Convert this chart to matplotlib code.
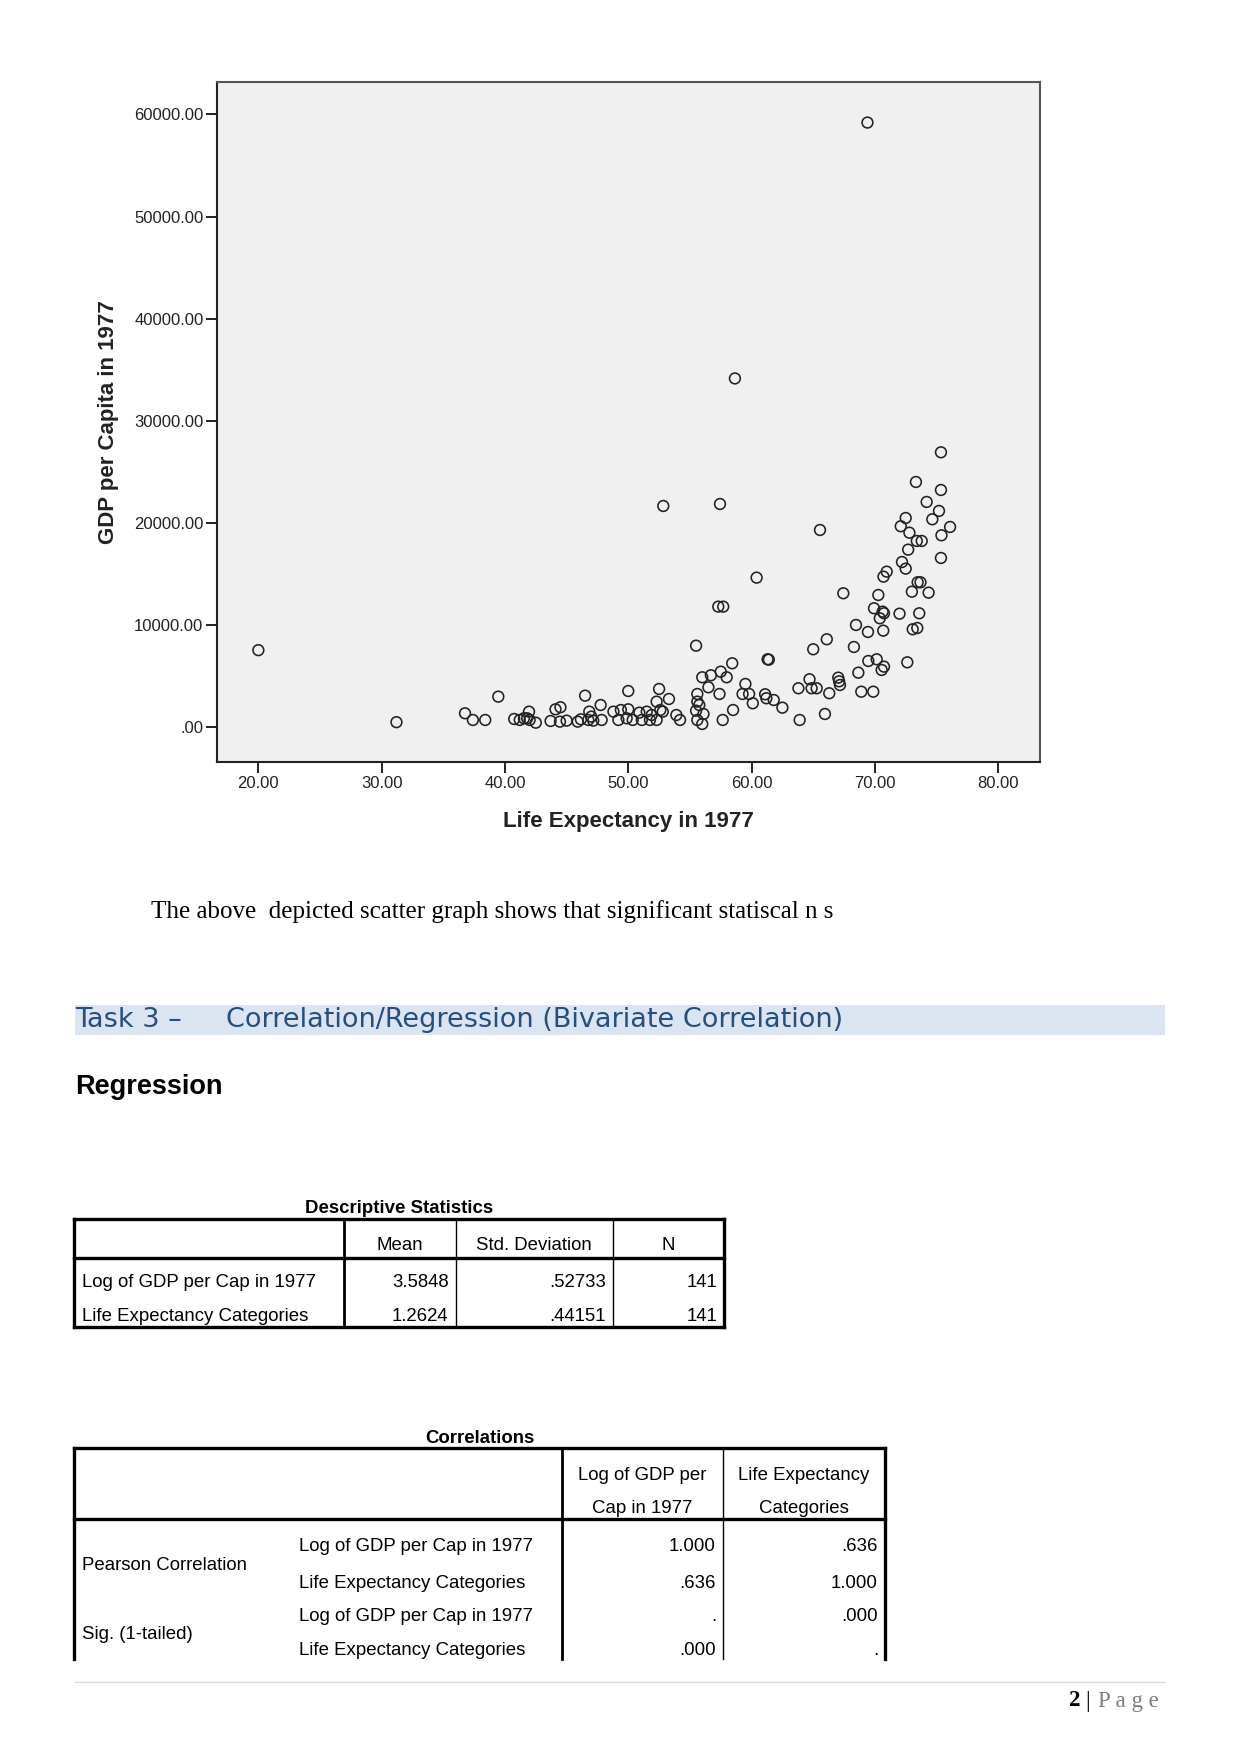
import matplotlib.pyplot as plt
from matplotlib.patches import Rectangle
from matplotlib.ticker import FuncFormatter

W, H = 1241, 1754

# scatter data: life expectancy (x) vs GDP per capita (y), 1977
life_exp = [
    20.0, 31.2, 69.4, 58.65, 52.84, 57.44, 65.55, 60.41, 57.3, 57.7,
    55.5, 75.36, 73.33, 75.36, 74.2, 75.2, 74.66, 76.1, 75.4, 72.5,
    72.1, 72.8, 73.4, 73.8, 72.7, 75.36, 72.2, 72.5, 70.96, 70.7,
    67.44, 70.28, 73.47, 73.7, 73.0, 74.36, 69.93, 70.63, 70.74, 70.4,
    72.0, 73.6, 73.07, 73.44, 70.68, 68.47, 69.44, 66.1, 65.0, 68.3,
    72.63, 69.47, 70.15, 70.74, 70.55, 68.66, 61.3, 61.4, 58.43, 56.0,
    56.7, 57.5, 57.98, 59.5, 56.5, 55.6, 57.4, 59.27, 59.8, 61.1,
    61.2, 64.7, 63.8, 64.87, 65.28, 67.03, 67.1, 67.17, 66.3, 68.9,
    69.87, 52.5, 53.3, 52.3, 55.6, 55.76, 55.5, 56.1, 55.6, 56.0,
    57.66, 58.5, 60.1, 61.8, 62.5, 63.9, 65.95, 36.76, 37.4, 38.4,
    39.46, 40.75, 41.2, 41.54, 41.95, 41.8, 42.0, 42.5, 43.7, 44.1,
    44.5, 44.46, 45.0, 45.9, 46.16, 46.5, 46.84, 46.76, 47.0, 47.16,
    47.76, 47.84, 48.8, 49.2, 49.4, 50.0, 50.0, 49.87, 50.36, 50.9,
    51.5, 51.1, 51.76, 52.3, 51.9, 53.9, 54.2, 52.6, 52.8,
]
gdp_per_cap = [
    7550, 500, 59200, 34150, 21665, 21860, 19315, 14650, 11810, 11810,
    7990, 26920, 24015, 23230, 22060, 21180, 20360, 19610, 18795, 20490,
    19680, 19050, 18240, 18240, 17390, 16575, 16180, 15530, 15235, 14745,
    13120, 12950, 14195, 14195, 13275, 13180, 11650, 11320, 11160, 10670,
    11120, 11160, 9595, 9720, 9460, 10015, 9330, 8615, 7635, 7860,
    6360, 6490, 6655, 5935, 5610, 5345, 6655, 6620, 6265, 4895,
    5090, 5445, 4895, 4240, 3915, 3260, 3260, 3260, 3260, 3230,
    2840, 4700, 3820, 3820, 3820, 4860, 4500, 4140, 3330, 3485,
    3485, 3750, 2770, 2510, 2510, 2180, 1625, 1300, 715, 323,
    715, 1690, 2350, 2670, 1920, 715, 1300, 1370, 715, 715,
    3000, 810, 715, 880, 1530, 880, 715, 450, 615, 1760,
    1960, 550, 650, 550, 780, 3095, 1530, 715, 1040, 650,
    2180, 715, 1530, 715, 1690, 1760, 3550, 880, 715, 1430,
    1530, 715, 715, 715, 1200, 1200, 715, 1690, 1530,
]
x_ticks = [20, 30, 40, 50, 60, 70, 80]
y_ticks = [0, 10000, 20000, 30000, 40000, 50000, 60000]

body_text = "The above  depicted scatter graph shows that significant statiscal n s"
heading_task = "Task 3 \u2013"
heading_title = "Correlation/Regression (Bivariate Correlation)"
section_title = "Regression"

desc_title = "Descriptive Statistics"
desc_columns = ["Mean", "Std. Deviation", "N"]
desc_rows = ["Log of GDP per Cap in 1977", "Life Expectancy Categories"]
desc_mean = ["3.5848", "1.2624"]
desc_sd = [".52733", ".44151"]
desc_n = ["141", "141"]

corr_title = "Correlations"
corr_columns = ["Log of GDP per\nCap in 1977", "Life Expectancy\nCategories"]
corr_groups = ["Pearson Correlation", "Sig. (1-tailed)"]
corr_vars = ["Log of GDP per Cap in 1977", "Life Expectancy Categories"]
corr_gdp = ["1.000", ".636", ".", ".000"]
corr_life = [".636", "1.000", ".000", "."]

SANS = "Liberation Sans"
SERIF = "Liberation Serif"
TFS = 13.4   # table font size
DY = 2.5     # small downward nudge for table text


def spss_fmt(v, _pos=None):
    return f"{v:.2f}".lstrip("0") if v == 0 else f"{v:.2f}"


def hline(ax, x0, x1, y, lw):
    ax.plot([x0, x1], [y, y], color="black", lw=lw, solid_capstyle="projecting")


def vline(ax, x, y0, y1, lw):
    ax.plot([x, x], [y0, y1], color="black", lw=lw, solid_capstyle="projecting")


def main():
    fig = plt.figure(figsize=(W / 100, H / 100), dpi=100)
    fig.patch.set_facecolor("white")

    # page layer in pixel coordinates (y down)
    page = fig.add_axes([0, 0, 1, 1])
    page.set_xlim(0, W)
    page.set_ylim(H, 0)
    page.axis("off")

    # scatter plot
    left, right, top, bottom = 217.3, 1039.6, 81.7, 761.7
    ax = fig.add_axes([left / W, 1 - bottom / H, (right - left) / W, (bottom - top) / H])
    ax.set_facecolor("#f0f0f0")
    ax.scatter(life_exp, gdp_per_cap, s=60, facecolors="none",
               edgecolors="#222222", linewidths=1.15, zorder=3)
    ax.set_xlim(16.67, 83.36)
    ax.set_ylim(-3370, 63200)
    ax.set_xticks(x_ticks)
    ax.set_yticks(y_ticks)
    ax.xaxis.set_major_formatter(FuncFormatter(spss_fmt))
    ax.yaxis.set_major_formatter(FuncFormatter(spss_fmt))
    ax.tick_params(length=8, width=1.4, color="#222222", labelsize=12, pad=2)
    for lab in ax.get_xticklabels() + ax.get_yticklabels():
        lab.set_fontfamily(SANS)
        lab.set_color("#222222")
    for sp in ax.spines.values():
        sp.set_color("#555555")
        sp.set_linewidth(1.5)
    ax.spines["left"].set_color("#222222")
    ax.spines["bottom"].set_color("#222222")

    page.text((left + right) / 2, 822, "Life Expectancy in 1977", ha="center", va="center",
              fontsize=16, fontweight="bold", family=SANS, color="#222222")
    page.text(108.5, (top + bottom) / 2, "GDP per Capita in 1977", ha="center", va="center",
              rotation=90, fontsize=16, fontweight="bold", family=SANS, color="#222222")

    # body text
    page.text(151, 912, body_text, ha="left", va="center", fontsize=18, family=SERIF)

    # heading band
    page.add_patch(Rectangle((75, 1005), 1090, 30, facecolor="#dbe5f1", edgecolor="none"))
    page.text(75, 1020, heading_task, ha="left", va="center", fontsize=19.5,
              family="DejaVu Sans", color="#24507f")
    page.text(226, 1020, heading_title, ha="left", va="center", fontsize=19.5,
              family="DejaVu Sans", color="#24507f")

    page.text(75, 1087, section_title, ha="left", va="center", fontsize=19.5,
              fontweight="bold", family=SANS)

    # descriptive statistics table
    tx = [74, 343.5, 455.5, 613, 724]
    ty_top, ty_head, ty_bot = 1219, 1258, 1327
    page.text((tx[0] + tx[-1]) / 2, 1206 + DY, desc_title, ha="center", va="center",
              fontsize=TFS, fontweight="bold", family=SANS)
    hline(page, tx[0], tx[-1], ty_top, 2.4)
    hline(page, tx[0], tx[-1], ty_head, 2.4)
    hline(page, tx[0], tx[-1], ty_bot, 2.4)
    vline(page, tx[0], ty_top, ty_bot, 2.4)
    vline(page, tx[1], ty_top, ty_bot, 2.0)
    vline(page, tx[2], ty_top, ty_bot, 1.0)
    vline(page, tx[3], ty_top, ty_bot, 1.0)
    vline(page, tx[4], ty_top, ty_bot, 2.4)
    for i, col in enumerate(desc_columns):
        page.text((tx[i + 1] + tx[i + 2]) / 2, 1243 + DY, col, ha="center", va="center",
                  fontsize=TFS, family=SANS)
    row_y = [1280, 1314]
    for j, name in enumerate(desc_rows):
        page.text(82, row_y[j] + DY, name, ha="left", va="center", fontsize=TFS, family=SANS)
        for i, vals in enumerate([desc_mean, desc_sd, desc_n]):
            page.text(tx[i + 2] - 7, row_y[j] + DY, vals[j], ha="right", va="center",
                      fontsize=TFS, family=SANS)

    # correlations table (cut at page break)
    cx = [74, 562, 723, 885]
    cy_top, cy_head, cy_bot = 1448, 1519, 1659
    page.text((cx[0] + cx[-1]) / 2, 1436 + DY, corr_title, ha="center", va="center",
              fontsize=TFS, fontweight="bold", family=SANS)
    hline(page, cx[0], cx[-1], cy_top, 2.4)
    hline(page, cx[0], cx[-1], cy_head, 2.4)
    vline(page, cx[0], cy_top, cy_bot, 2.4)
    vline(page, cx[1], cy_top, cy_bot, 2.0)
    vline(page, cx[2], cy_top, cy_bot, 1.0)
    vline(page, cx[3], cy_top, cy_bot, 2.4)
    for i, col in enumerate(corr_columns):
        l1, l2 = col.split("\n")
        xc = (cx[i + 1] + cx[i + 2]) / 2
        page.text(xc, 1473 + DY, l1, ha="center", va="center", fontsize=TFS, family=SANS)
        page.text(xc, 1506 + DY, l2, ha="center", va="center", fontsize=TFS, family=SANS)
    crow_y = [1544, 1581, 1614, 1648]
    group_y = [1563, 1632]
    for g, name in enumerate(corr_groups):
        page.text(82, group_y[g] + DY, name, ha="left", va="center", fontsize=TFS, family=SANS)
    for k in range(4):
        page.text(299, crow_y[k] + DY, corr_vars[k % 2], ha="left", va="center",
                  fontsize=TFS, family=SANS)
        page.text(cx[2] - 7, crow_y[k] + DY, corr_gdp[k], ha="right", va="center",
                  fontsize=TFS, family=SANS)
        page.text(cx[3] - 7, crow_y[k] + DY, corr_life[k], ha="right", va="center",
                  fontsize=TFS, family=SANS)

    # footer
    page.plot([75, 1165], [1682, 1682], color="#d9d9d9", lw=1.0)
    page.text(1080, 1701, "2", ha="right", va="center", fontsize=16.5,
              fontweight="bold", family=SERIF)
    page.text(1088, 1701, "|", ha="center", va="center", fontsize=16.5, family=SERIF)
    page.text(1098, 1701, "P a g e", ha="left", va="center", fontsize=16.5,
              family=SERIF, color="#7f7f7f")

    fig.savefig("out.png", dpi=100)


if __name__ == "__main__":
    main()
